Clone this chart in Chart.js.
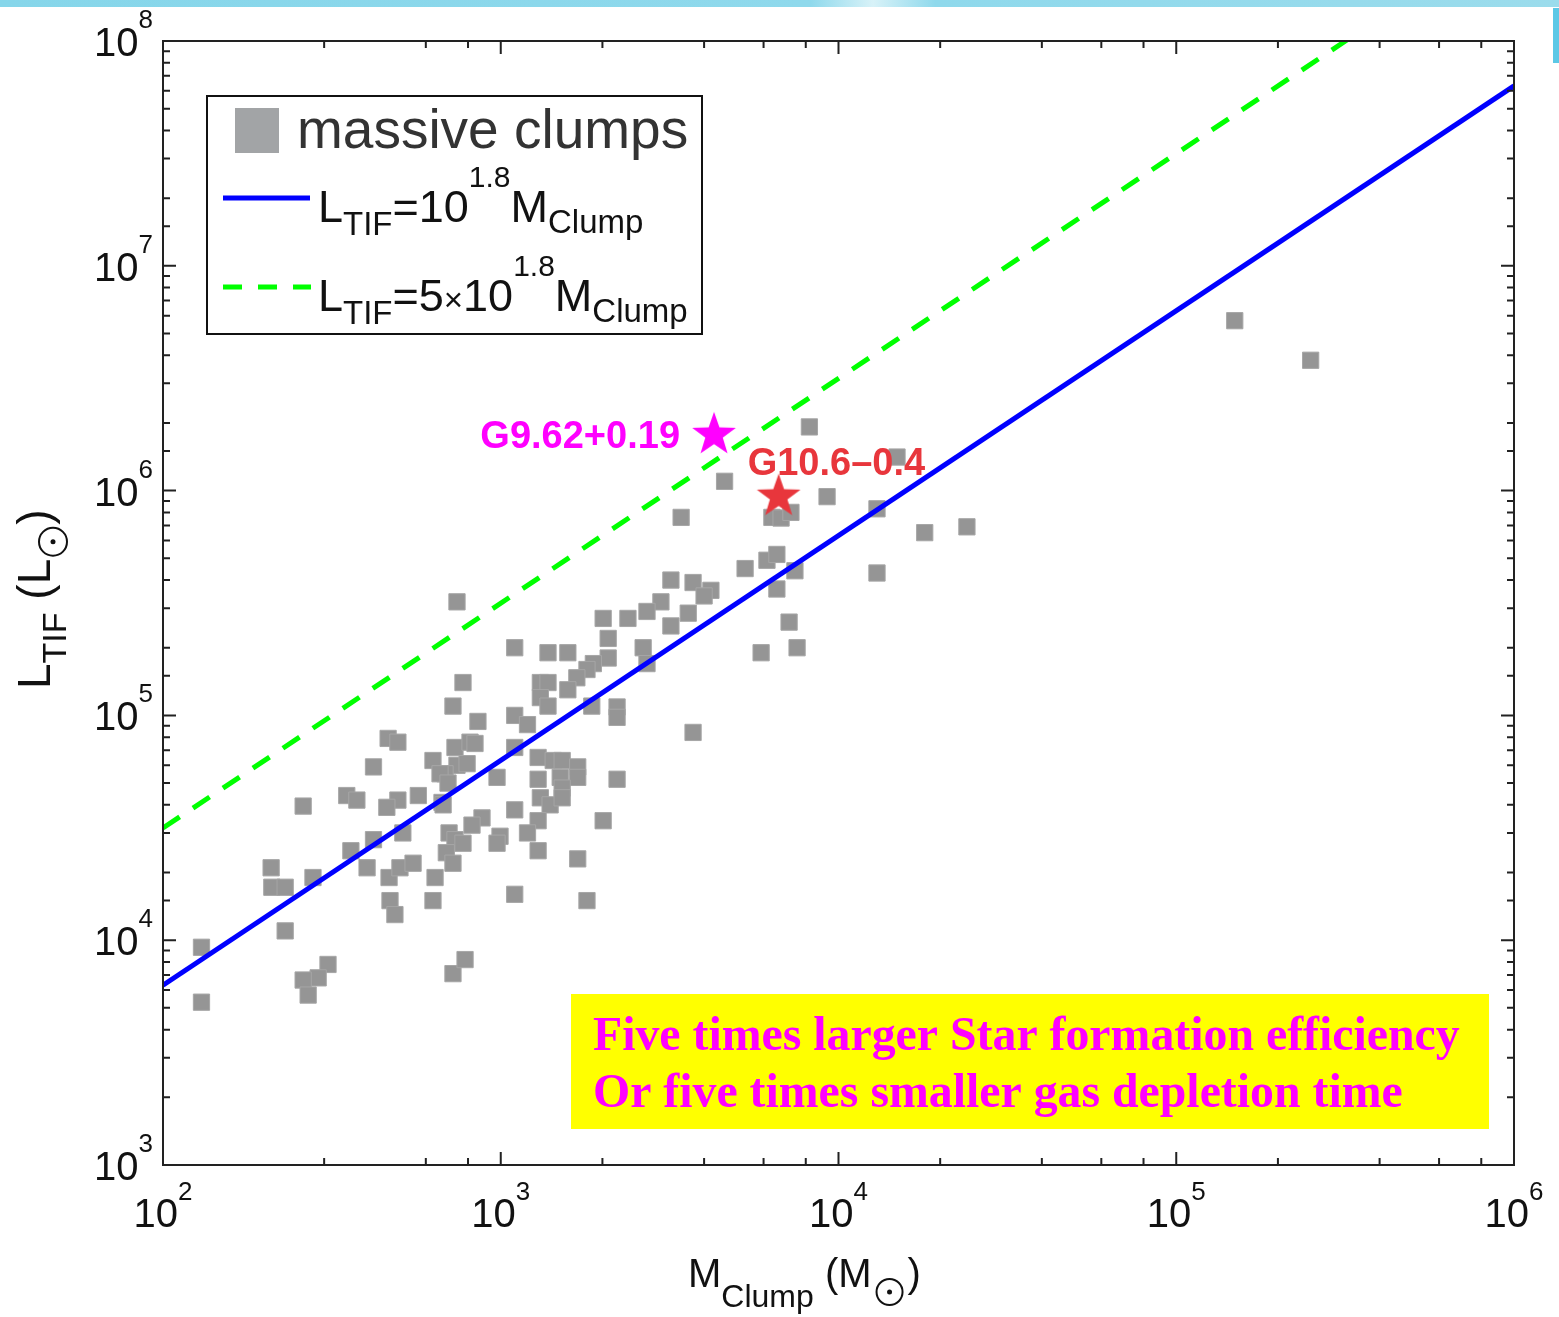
<!DOCTYPE html>
<html>
<head>
<meta charset="utf-8">
<script src="https://cdn.jsdelivr.net/npm/chart.js@4.4.0/dist/chart.umd.min.js"></script>
<style>
  html, body { margin: 0; padding: 0; background: #fff; }
  canvas { display: block; }
</style>
</head>
<body>
<canvas id="chart" width="1559" height="1317" style="width:1559px;height:1317px"></canvas>
<script>
// clump masses (Msun) and TIF luminosities (Lsun)
const clumpMass = [
  149000, 250000, 8200, 14900, 4600, 9250, 3420, 6350, 6760, 7230,
  13000, 18000, 24000, 3190, 3710, 4190, 4000, 2980, 2710, 3590,
  3190, 5290, 6140, 6570, 7430, 6570, 7140, 13000, 5900, 7540,
  2640, 2710, 3710, 742, 2010, 2380, 2080, 1100, 1380, 1580,
  2080, 1880, 1800, 1680, 1580, 1310, 1380, 1310, 1380, 1860,
  2210, 2210, 773, 722, 856, 1100, 1200, 732, 811, 839,
  742, 795, 684, 1100, 975, 1290, 1430, 1520, 1690, 1690,
  1290, 1500, 1520, 2210, 1310, 1100, 1400, 464, 496, 420,
  630, 661, 698, 350, 375, 260, 496, 460, 570, 670,
  513, 420, 360, 703, 732, 690, 722, 209, 210, 230,
  278, 402, 467, 503, 550, 639, 470, 486, 630, 230,
  130, 308, 288, 260, 269, 130, 722, 784, 1520, 675,
  880, 822, 1290, 2010, 773, 995, 975, 1200, 1290, 1690,
  1100, 1800
];
const clumpLum = [
  5.7e6, 3.8e6, 1.92e6, 1.41e6, 1.10e6, 9.4e5, 7.6e5, 7.6e5, 7.55e5, 8.0e5,
  8.3e5, 6.5e5, 6.9e5, 4.0e5, 3.9e5, 3.6e5, 3.4e5, 3.2e5, 2.9e5, 2.85e5,
  2.5e5, 4.5e5, 4.9e5, 5.2e5, 4.4e5, 3.65e5, 2.6e5, 4.3e5, 1.9e5, 2.0e5,
  2.0e5, 1.7e5, 8.4e4, 3.2e5, 2.7e5, 2.7e5, 2.2e5, 2.0e5, 1.9e5, 1.9e5,
  1.8e5, 1.7e5, 1.6e5, 1.47e5, 1.3e5, 1.4e5, 1.4e5, 1.2e5, 1.1e5, 1.1e5,
  1.09e5, 9.8e4, 1.4e5, 1.1e5, 9.4e4, 1.0e5, 9.1e4, 7.2e4, 7.6e4, 7.5e4,
  6.0e4, 6.1e4, 5.5e4, 7.2e4, 5.3e4, 6.5e4, 6.3e4, 6.3e4, 5.9e4, 5.3e4,
  5.2e4, 5.3e4, 4.75e4, 5.2e4, 4.3e4, 3.8e4, 4.0e4, 7.9e4, 7.6e4, 5.9e4,
  6.3e4, 5.5e4, 5.0e4, 4.4e4, 4.2e4, 3.95e4, 4.2e4, 3.9e4, 4.4e4, 4.1e4,
  3.0e4, 2.8e4, 2.5e4, 3.0e4, 2.8e4, 2.45e4, 2.2e4, 2.1e4, 1.72e4, 1.72e4,
  1.9e4, 2.1e4, 1.9e4, 2.1e4, 2.2e4, 1.9e4, 1.5e4, 1.3e4, 1.5e4, 1.1e4,
  9.3e3, 7.8e3, 6.8e3, 6.65e3, 5.7e3, 5.3e3, 7.1e3, 8.2e3, 4.3e4, 4.0e4,
  3.5e4, 3.25e4, 3.4e4, 3.4e4, 2.7e4, 2.9e4, 2.7e4, 3.0e4, 2.5e4, 2.3e4,
  1.6e4, 1.5e4
];

// the two marked sources
const starNames = ['G9.62+0.19', 'G10.6\u20130.4'];
const starMass = [4280, 6650];
const starLum = [1.77e6, 9.4e5];
const starColors = ['#ff00ff', '#e8363c'];

// relation lines  L = 10^1.8 M  and  L = 5 x 10^1.8 M
const lineMass = [100, 1e6];
const blueLum = [6310, 6.31e7];
const greenLum = [31550, 3.155e8];

// tick label exponents
const xTickExp = ['2', '3', '4', '5', '6'];
const yTickExp = ['3', '4', '5', '6', '7', '8'];

const SANS = '"Liberation Sans", Arial, Helvetica, sans-serif';
const SERIF = '"Liberation Serif", "Times New Roman", serif';

function starImage(color, r) {
  const c = document.createElement('canvas');
  const s = Math.ceil(r * 2 + 4);
  c.width = s; c.height = s;
  const g = c.getContext('2d');
  g.beginPath();
  for (let i = 0; i < 10; i++) {
    const rad = i % 2 ? r * 0.4 : r;
    const a = -Math.PI / 2 + i * Math.PI / 5;
    g.lineTo(s / 2 + rad * Math.cos(a), s / 2 + rad * Math.sin(a));
  }
  g.closePath();
  g.fillStyle = color;
  g.fill();
  return c;
}

// draws a run of text pieces; piece = {t, s, dy} or {sun: r, dy, w}
function drawRuns(ctx, x, y, parts, align) {
  let total = 0;
  parts.forEach(p => {
    if (p.sun) { total += p.w; return; }
    ctx.font = p.s + 'px ' + SANS;
    total += ctx.measureText(p.t).width;
  });
  let cx = align === 'right' ? x - total : align === 'center' ? x - total / 2 : x;
  parts.forEach(p => {
    if (p.sun) {
      ctx.save();
      ctx.lineWidth = 2;
      ctx.strokeStyle = ctx.fillStyle;
      ctx.beginPath();
      ctx.arc(cx + p.w / 2, y + (p.dy || 0), p.sun, 0, Math.PI * 2);
      ctx.stroke();
      ctx.beginPath();
      ctx.arc(cx + p.w / 2, y + (p.dy || 0), 2.5, 0, Math.PI * 2);
      ctx.fill();
      ctx.restore();
      cx += p.w;
      return;
    }
    ctx.font = p.s + 'px ' + SANS;
    ctx.fillText(p.t, cx, y + (p.dy || 0));
    cx += ctx.measureText(p.t).width;
  });
}

const decorPlugin = {
  id: 'decor',
  beforeDraw(chart) {
    const ctx = chart.ctx;
    ctx.save();
    ctx.fillStyle = '#fff';
    ctx.fillRect(0, 0, chart.width, chart.height);
    const grad = ctx.createLinearGradient(0, 0, chart.width, 0);
    grad.addColorStop(0, '#86d6ea');
    grad.addColorStop(0.52, '#8fd9ec');
    grad.addColorStop(0.56, '#d8f2f8');
    grad.addColorStop(0.6, '#8fd9ec');
    grad.addColorStop(1, '#9bdcec');
    ctx.fillStyle = grad;
    ctx.fillRect(0, 0, chart.width, 7);
    ctx.fillStyle = '#5cc8e6';
    ctx.fillRect(1553, 8, 6, 55);
    ctx.restore();
  },
  afterDatasetsDraw(chart) {
    const ctx = chart.ctx;
    const a = chart.chartArea;
    const xs = chart.scales.x, ys = chart.scales.y;
    ctx.save();

    // frame
    ctx.strokeStyle = '#222';
    ctx.lineWidth = 2;
    ctx.strokeRect(a.left, a.top, a.right - a.left, a.bottom - a.top);

    // inward ticks on all four sides
    const isMajor = v => Math.abs(Math.log10(v) - Math.round(Math.log10(v))) < 1e-6;
    ctx.lineWidth = 2;
    ctx.beginPath();
    xs.ticks.forEach(t => {
      const px = xs.getPixelForValue(t.value);
      if (px <= a.left + 1 || px >= a.right - 1) return;
      const len = isMajor(t.value) ? 13 : 7;
      ctx.moveTo(px, a.bottom); ctx.lineTo(px, a.bottom - len);
      ctx.moveTo(px, a.top); ctx.lineTo(px, a.top + len);
    });
    ys.ticks.forEach(t => {
      const py = ys.getPixelForValue(t.value);
      if (py <= a.top + 1 || py >= a.bottom - 1) return;
      const len = isMajor(t.value) ? 13 : 7;
      ctx.moveTo(a.left, py); ctx.lineTo(a.left + len, py);
      ctx.moveTo(a.right, py); ctx.lineTo(a.right - len, py);
    });
    ctx.stroke();

    // tick labels
    ctx.fillStyle = '#111';
    ctx.textBaseline = 'alphabetic';
    xTickExp.forEach(e => {
      const px = xs.getPixelForValue(Math.pow(10, Number(e)));
      drawRuns(ctx, px, a.bottom + 62, [{t: '10', s: 40}, {t: e, s: 26, dy: -27}], 'center');
    });
    yTickExp.forEach(e => {
      const py = ys.getPixelForValue(Math.pow(10, Number(e)));
      drawRuns(ctx, a.left - 10, py + 15, [{t: '10', s: 40}, {t: e, s: 26, dy: -28}], 'right');
    });

    // axis titles
    drawRuns(ctx, 688, 1287, [
      {t: 'M', s: 40}, {t: 'Clump', s: 32, dy: 20}, {t: ' (M', s: 40},
      {sun: 13, w: 36, dy: 5}, {t: ')', s: 40}
    ], 'left');
    ctx.save();
    ctx.translate(50, 689);
    ctx.rotate(-Math.PI / 2);
    drawRuns(ctx, 0, 0, [
      {t: 'L', s: 46}, {t: 'TIF', s: 34, dy: 16}, {t: ' (L', s: 46},
      {sun: 14, w: 34, dy: 3}, {t: ')', s: 46}
    ], 'left');
    ctx.restore();

    // legend
    ctx.fillStyle = '#fff';
    ctx.fillRect(207, 96, 495, 238);
    ctx.strokeStyle = '#111';
    ctx.lineWidth = 2;
    ctx.strokeRect(207, 96, 495, 238);
    ctx.fillStyle = '#a2a4a6';
    ctx.fillRect(235, 108, 44, 45);
    ctx.fillStyle = '#333';
    ctx.font = '55px ' + SANS;
    ctx.fillText('massive clumps', 297, 148);
    ctx.lineWidth = 5;
    ctx.strokeStyle = '#0000ff';
    ctx.beginPath(); ctx.moveTo(223, 198); ctx.lineTo(310, 198); ctx.stroke();
    ctx.strokeStyle = '#00ff00';
    ctx.setLineDash([19, 16]);
    ctx.beginPath(); ctx.moveTo(223, 287); ctx.lineTo(311, 287); ctx.stroke();
    ctx.setLineDash([]);
    ctx.fillStyle = '#111';
    drawRuns(ctx, 318, 222, [
      {t: 'L', s: 45}, {t: 'TIF', s: 33, dy: 13}, {t: '=10', s: 45},
      {t: '1.8', s: 30, dy: -35}, {t: 'M', s: 45}, {t: 'Clump', s: 33, dy: 11}
    ], 'left');
    drawRuns(ctx, 318, 311, [
      {t: 'L', s: 45}, {t: 'TIF', s: 33, dy: 13}, {t: '=5', s: 45}, {t: '\u00d7', s: 33},
      {t: '10', s: 45}, {t: '1.8', s: 30, dy: -35}, {t: 'M', s: 45}, {t: 'Clump', s: 33, dy: 11}
    ], 'left');

    // star labels
    const p0x = xs.getPixelForValue(starMass[0]), p0y = ys.getPixelForValue(starLum[0]);
    ctx.fillStyle = starColors[0];
    ctx.font = 'bold 38px ' + SANS;
    ctx.textAlign = 'right';
    ctx.fillText(starNames[0], p0x - 34, p0y + 13);
    const p1x = xs.getPixelForValue(starMass[1]), p1y = ys.getPixelForValue(starLum[1]);
    ctx.fillStyle = starColors[1];
    ctx.textAlign = 'left';
    ctx.fillText(starNames[1], p1x - 31, p1y - 22);

    // annotation box
    ctx.fillStyle = '#ffff00';
    ctx.fillRect(571, 994, 918, 135);
    ctx.fillStyle = '#ff00ff';
    ctx.font = 'bold 47.8px ' + SERIF;
    ctx.fillText('Five times larger Star formation efficiency', 593, 1050);
    ctx.fillText('Or five times smaller gas depletion time', 593, 1107);

    ctx.restore();
  }
};

const clumpPoints = clumpMass.map((m, i) => ({x: m, y: clumpLum[i]}));

new Chart(document.getElementById('chart'), {
  type: 'scatter',
  data: {
    datasets: [
      {
        label: starNames[0],
        data: [{x: starMass[0], y: starLum[0]}],
        pointStyle: starImage(starColors[0], 23),
        order: 0
      },
      {
        label: starNames[1],
        data: [{x: starMass[1], y: starLum[1]}],
        pointStyle: starImage(starColors[1], 23),
        order: 0
      },
      {
        type: 'line',
        label: 'L=10^1.8 M',
        data: lineMass.map((m, i) => ({x: m, y: blueLum[i]})),
        borderColor: '#0000ff',
        borderWidth: 5,
        pointRadius: 0,
        fill: false,
        clip: 0,
        order: 1
      },
      {
        type: 'line',
        label: 'L=5x10^1.8 M',
        data: lineMass.map((m, i) => ({x: m, y: greenLum[i]})),
        borderColor: '#00ff00',
        borderWidth: 5,
        borderDash: [20, 16],
        pointRadius: 0,
        fill: false,
        clip: 0,
        order: 1
      },
      {
        label: 'massive clumps',
        data: clumpPoints,
        pointStyle: 'rect',
        pointRadius: 11.5,
        backgroundColor: '#959595',
        borderColor: '#a6a6a6',
        borderWidth: 1,
        order: 2
      }
    ]
  },
  options: {
    responsive: false,
    animation: false,
    events: [],
    layout: { padding: { left: 163, top: 41, right: 45, bottom: 152 } },
    scales: {
      x: { type: 'logarithmic', min: 100, max: 1e6, display: false },
      y: { type: 'logarithmic', min: 1e3, max: 1e8, display: false }
    },
    plugins: {
      legend: { display: false },
      tooltip: { enabled: false }
    }
  },
  plugins: [decorPlugin]
});
</script>
</body>
</html>
